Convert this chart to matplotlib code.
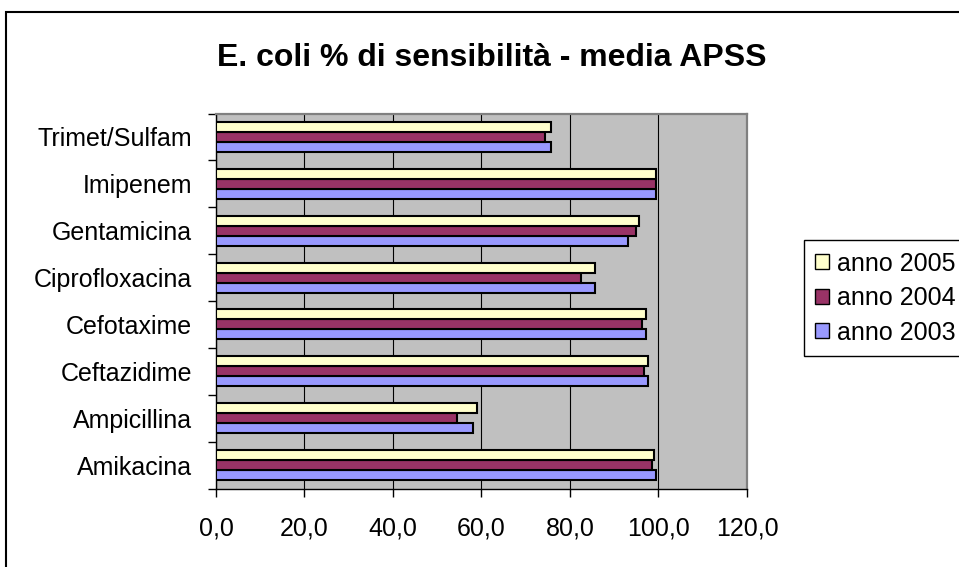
import numpy as np
import matplotlib
matplotlib.use("Agg")
import matplotlib.pyplot as plt
from matplotlib.patches import Rectangle

plt.rcParams['font.family'] = ['Liberation Sans', 'DejaVu Sans']

farmaci = ["Amikacina", "Ampicillina", "Ceftazidime", "Cefotaxime",
           "Ciprofloxacina", "Gentamicina", "Imipenem", "Trimet/Sulfam"]
anno_2003 = [99.5, 58.1, 97.7, 97.2, 85.6, 93.2, 99.5, 75.7]
anno_2004 = [98.6, 54.4, 96.8, 96.3, 82.4, 95.0, 99.5, 74.3]
anno_2005 = [99.1, 59.0, 97.7, 97.2, 85.6, 95.5, 99.5, 75.7]
xticks = [0, 20, 40, 60, 80, 100, 120]

fig = plt.figure(figsize=(9.59, 5.67), dpi=100)
ax = fig.add_axes([0.2252, 0.1384, 0.5537, 0.6614])
ax.set_facecolor("#C0C0C0")

y = np.arange(len(farmaci))
h = 0.213
b3 = ax.barh(y - h, anno_2003, height=h, color="#9999FF", edgecolor="black", linewidth=1.5, zorder=3)
b4 = ax.barh(y, anno_2004, height=h, color="#993366", edgecolor="black", linewidth=1.5, zorder=3)
b5 = ax.barh(y + h, anno_2005, height=h, color="#FFFFCC", edgecolor="black", linewidth=1.5, zorder=3)

ax.set_xlim(0, 120)
ax.set_ylim(-0.5, len(farmaci) - 0.5)
ax.set_xticks(xticks)
# etichette con la virgola decimale
ax.set_xticklabels([("%.1f" % v).replace(".", ",") for v in xticks])
ax.xaxis.grid(True, color="black", linewidth=0.8, zorder=1)
ax.set_axisbelow(True)

ax.set_yticks(y)
ax.set_yticklabels(farmaci)
ax.set_yticks(np.arange(-0.5, len(farmaci)), minor=True)
ax.tick_params(axis="y", which="major", length=0, pad=17, labelsize=18)
ax.tick_params(axis="y", which="minor", length=6, width=1, direction="out")
ax.tick_params(axis="x", length=6, width=1, direction="out", pad=14, labelsize=18)

for s in ["top", "right"]:
    ax.spines[s].set_color("#808080")
    ax.spines[s].set_linewidth(1.6)
for s in ["left", "bottom"]:
    ax.spines[s].set_color("black")
    ax.spines[s].set_linewidth(1.0)

fig.text(0.513, 0.897, "E. coli % di sensibilità - media APSS",
         ha="center", va="center", fontsize=23, fontweight="bold")

leg = fig.legend([b5, b4, b3], ["anno 2005", "anno 2004", "anno 2003"],
                 loc="center left", bbox_to_anchor=(0.838, 0.4744),
                 fontsize=18, handlelength=0.55, handleheight=0.55,
                 handletextpad=0.35, labelspacing=0.42, borderpad=0.45,
                 borderaxespad=0, fancybox=False, framealpha=1)
leg.get_frame().set_edgecolor("black")
leg.get_frame().set_linewidth(1.0)
for p in leg.get_patches():
    p.set_linewidth(1.0)

# cornice esterna del grafico
fig.patches.append(Rectangle((0.0063, -0.1), 1.2, 0.9788 + 0.1, transform=fig.transFigure,
                             fill=False, edgecolor="black", linewidth=1.5))

fig.savefig("out.png", dpi=100)
